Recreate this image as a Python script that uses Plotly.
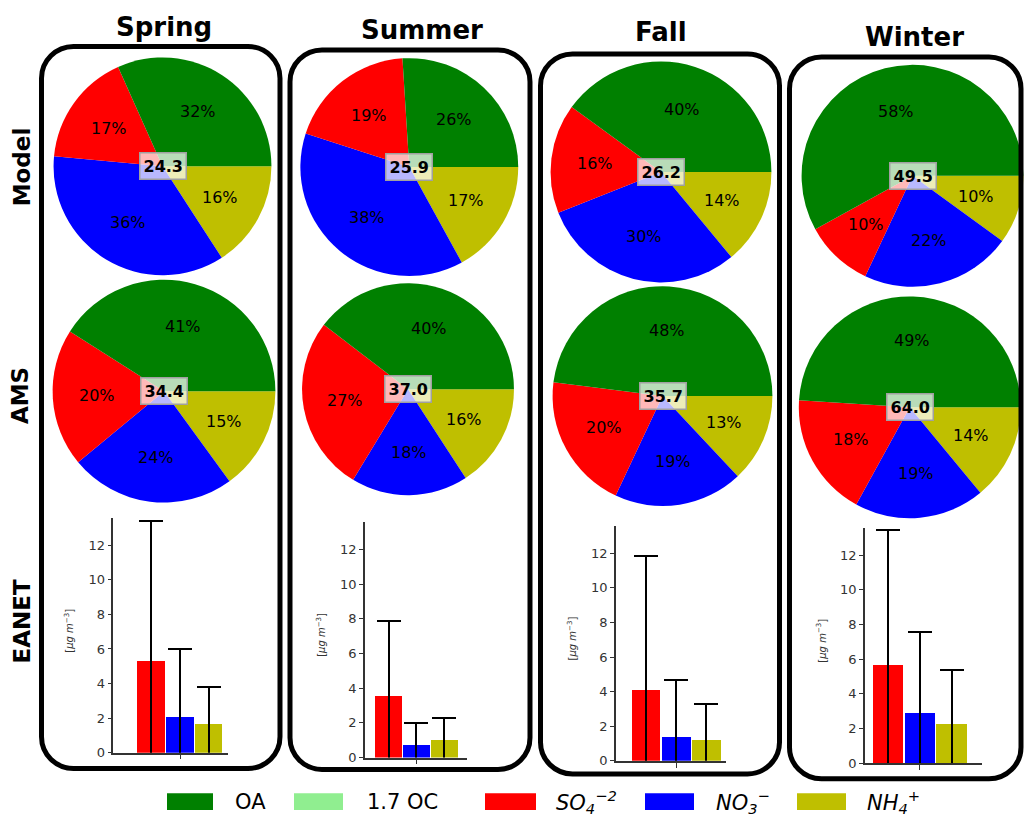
import math
import plotly.graph_objects as go

W, H = 1025, 825

# ---------------- data ----------------
seasons = ["Spring", "Summer", "Fall", "Winter"]
species = ["OA", "SO4", "NO3", "NH4"]
species_colors = ["#008000", "#ff0000", "#0000ff", "#bfbf00"]

# mass fractions (%) : OA, SO4, NO3, NH4
model_pct = [[32, 17, 36, 16], [26, 19, 38, 17], [40, 16, 30, 14], [58, 10, 22, 10]]
ams_pct = [[41, 20, 24, 15], [40, 27, 18, 16], [48, 20, 19, 13], [49, 18, 19, 14]]

# total mass (ug m-3)
model_total = [24.3, 25.9, 26.2, 49.5]
ams_total = [34.4, 37.0, 35.7, 64.0]

# EANET filter measurements: mean and standard deviation (ug m-3)
eanet_species = ["SO4", "NO3", "NH4"]
eanet_colors = ["#ff0000", "#0000ff", "#bfbf00"]
eanet_mean = [[5.3, 2.1, 1.7], [3.6, 0.75, 1.05], [4.15, 1.4, 1.25], [5.7, 2.9, 2.3]]
eanet_std = [[8.1, 3.9, 2.1], [4.3, 1.25, 1.25], [7.7, 3.3, 2.05], [7.75, 4.7, 3.1]]
eanet_ticks = [0, 2, 4, 6, 8, 10, 12]

legend_labels = ["OA", "1.7 OC", "<i>SO<sub>4</sub><sup>−2</sup></i>",
                 "<i>NO<sub>3</sub><sup>−</sup></i>", "<i>NH<sub>4</sub><sup>+</sup></i>"]
legend_colors = ["#008000", "#90ee90", "#ff0000", "#0000ff", "#bfbf00"]

# ---------------- layout geometry (pixels) ----------------
model_pies = [(162.5, 168, 110), (409.3, 168.7, 110), (661, 173.7, 111.5), (912.5, 177.5, 112)]
ams_pies = [(164, 395, 112.5), (408, 393, 107), (662.5, 400, 111), (909.7, 411.3, 112)]
# bar panels: x0, x1, y_top, y_bottom, category range
bar_panels = [(113.3, 228.3, 522.7, 760, [-1.32, 2.68]),
              (365, 467.3, 526.7, 765, [-0.85, 2.83]),
              (616, 725.7, 530.7, 768.3, [-1.0, 2.65]),
              (865, 982.3, 532.7, 770.7, [-0.73, 2.97])]
boxes = [(41.5, 47, 280, 776), (290, 50.5, 530, 777),
         (540.5, 54.5, 779.5, 781.5), (789.5, 57.5, 1021, 786.5)]
title_pos = [(164, 27), (422, 30), (661, 32), (914, 37)]
row_labels = [("Model", 22, 169), ("AMS", 20, 400), ("EANET", 22, 627.5)]
legend_swatch = [(167, 213), (294, 343), (485, 536), (645, 694), (797, 846)]
legend_text_x = [233, 365, 554, 714, 865]


def PX(x):
    return x / W


def PY(y):
    return 1 - y / H


FONT = "DejaVu Sans"
fig = go.Figure()
annotations = []
shapes = []


def add_pie(pct, total, geom):
    cx, cy, r = geom
    # wedges run counterclockwise from 3 o'clock in species order; plotly lays
    # them out clockwise from the rotation angle, so feed them in reverse
    fig.add_trace(go.Pie(
        values=pct[::-1], labels=species[::-1], sort=False, direction="clockwise",
        rotation=90, textinfo="none", showlegend=False,
        marker=dict(colors=species_colors[::-1], line=dict(width=0)),
        domain=dict(x=[PX(cx - r), PX(cx + r)], y=[PY(cy + r), PY(cy - r)]),
    ))
    # percentage labels at 0.6 of the radius along each wedge's mid angle
    s = float(sum(pct))
    cum = 0.0
    for v in pct:
        mid = 2 * math.pi * (cum + v / s / 2)
        cum += v / s
        lx = cx + 0.6 * r * math.cos(mid)
        ly = cy - 0.6 * r * math.sin(mid)
        annotations.append(dict(x=PX(lx), y=PY(ly), xref="paper", yref="paper",
                                text=f"{v}%", showarrow=False,
                                font=dict(family=FONT, size=16, color="black"),
                                xanchor="center", yanchor="middle"))
    annotations.append(dict(x=PX(cx), y=PY(cy), xref="paper", yref="paper",
                            text=f"<b>{total:.1f}</b>", showarrow=False,
                            font=dict(family=FONT, size=16, color="black"),
                            bgcolor="rgba(255,255,255,0.72)", bordercolor="#a0a0a0",
                            borderwidth=1.5, borderpad=3,
                            xanchor="center", yanchor="middle"))


for i in range(4):
    add_pie(model_pct[i], model_total[i], model_pies[i])
    add_pie(ams_pct[i], ams_total[i], ams_pies[i])

# EANET bar panels
for i in range(4):
    x0, x1, yt, yb, xr = bar_panels[i]
    sfx = "" if i == 0 else str(i + 1)
    fig.add_trace(go.Bar(
        x=eanet_species, y=eanet_mean[i], width=0.96,
        marker=dict(color=eanet_colors, line=dict(width=0)),
        error_y=dict(type="data", array=eanet_std[i], visible=True,
                     color="black", thickness=2, width=12),
        xaxis="x" + sfx, yaxis="y" + sfx, showlegend=False,
    ))
    axis_common = dict(showline=True, linecolor="#333333", linewidth=1.5,
                       showgrid=False, zeroline=False, ticks="outside",
                       tickcolor="#333333", tickwidth=1.2, fixedrange=True)
    fig.layout["xaxis" + sfx] = dict(
        domain=[PX(x0), PX(x1)], anchor="y" + sfx, type="category",
        categoryorder="array", categoryarray=eanet_species, range=xr,
        tickvals=[eanet_species[1]], showticklabels=False, ticklen=5, **axis_common)
    fig.layout["yaxis" + sfx] = dict(
        domain=[PY(yb), PY(yt)], anchor="x" + sfx, range=[0, 13.6],
        tickvals=eanet_ticks, ticklen=4,
        tickfont=dict(family=FONT, size=13, color="#333333"), **axis_common)
    annotations.append(dict(x=0, y=0.52, xref="x" + sfx + " domain", yref="y" + sfx + " domain",
                            xshift=-44, text="[<i>μg m</i><sup>−3</sup>]", textangle=-90,
                            showarrow=False, font=dict(family=FONT, size=10, color="#333333"),
                            xanchor="center", yanchor="middle"))

# rounded frames around each season column
K = 0.5523
R = 32
for (bx0, by0, bx1, by1) in boxes:
    def P(x, y):
        return f"{PX(x):.5f},{PY(y):.5f}"
    path = (f"M {P(bx0 + R, by0)} L {P(bx1 - R, by0)} "
            f"C {P(bx1 - R + K * R, by0)} {P(bx1, by0 + R - K * R)} {P(bx1, by0 + R)} "
            f"L {P(bx1, by1 - R)} "
            f"C {P(bx1, by1 - R + K * R)} {P(bx1 - R + K * R, by1)} {P(bx1 - R, by1)} "
            f"L {P(bx0 + R, by1)} "
            f"C {P(bx0 + R - K * R, by1)} {P(bx0, by1 - R + K * R)} {P(bx0, by1 - R)} "
            f"L {P(bx0, by0 + R)} "
            f"C {P(bx0, by0 + R - K * R)} {P(bx0 + R - K * R, by0)} {P(bx0 + R, by0)} Z")
    shapes.append(dict(type="path", path=path, xref="paper", yref="paper",
                       line=dict(color="black", width=5), layer="above"))

# season titles
for name, (tx, ty) in zip(seasons, title_pos):
    annotations.append(dict(x=PX(tx), y=PY(ty), xref="paper", yref="paper",
                            text=f"<b>{name}</b>", showarrow=False,
                            font=dict(family=FONT, size=26, color="black"),
                            xanchor="center", yanchor="middle"))

# row labels
for name, rx, ry in row_labels:
    annotations.append(dict(x=PX(rx), y=PY(ry), xref="paper", yref="paper",
                            text=f"<b>{name}</b>", showarrow=False, textangle=-90,
                            font=dict(family=FONT, size=23, color="black"),
                            xanchor="center", yanchor="middle"))

# legend row
for lab, col, (sx0, sx1), tx in zip(legend_labels, legend_colors, legend_swatch, legend_text_x):
    shapes.append(dict(type="rect", xref="paper", yref="paper",
                       x0=PX(sx0), x1=PX(sx1), y0=PY(818), y1=PY(801),
                       fillcolor=col, line=dict(width=0)))
    annotations.append(dict(x=PX(tx), y=PY(809.5), xref="paper", yref="paper",
                            text=lab, showarrow=False,
                            font=dict(family=FONT, size=21, color="black"),
                            xanchor="left", yanchor="middle"))

fig.update_layout(
    width=W, height=H, margin=dict(l=0, r=0, t=0, b=0),
    paper_bgcolor="white", plot_bgcolor="white",
    font=dict(family=FONT), showlegend=False, bargap=0,
    annotations=annotations, shapes=shapes,
)

fig.write_html("out.html", config={"displayModeBar": False})
